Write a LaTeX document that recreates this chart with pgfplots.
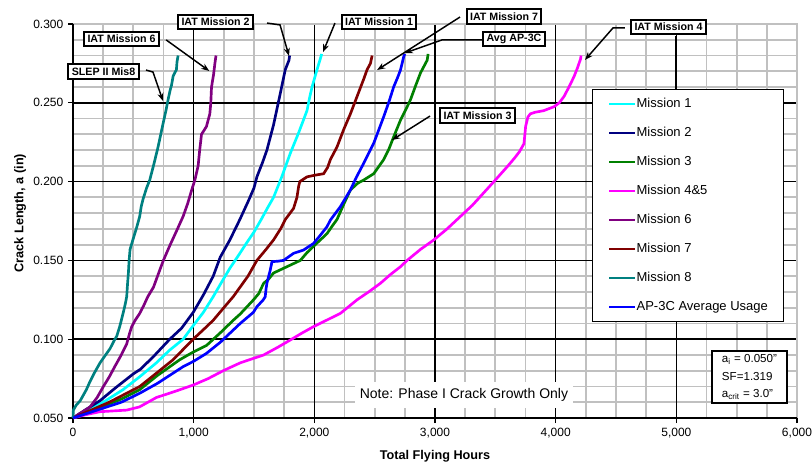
\documentclass[border=0pt]{standalone}
\usepackage{fontspec}
\setmainfont{Liberation Sans}
\usepackage{pgfplots}
\pgfplotsset{compat=1.18}
\usetikzlibrary{arrows.meta}
\definecolor{mcyan}{RGB}{0,255,255}
\definecolor{mnavy}{RGB}{0,0,128}
\definecolor{mgreen}{RGB}{0,128,0}
\definecolor{mmag}{RGB}{255,0,255}
\definecolor{mpurple}{RGB}{128,0,128}
\definecolor{mmaroon}{RGB}{128,0,0}
\definecolor{mteal}{RGB}{0,128,128}
\definecolor{mblue}{RGB}{0,0,255}
\definecolor{gridgray}{RGB}{192,192,192}
\begin{document}
\begin{tikzpicture}[x=1pt,y=1pt,
  lab/.style={draw=black, line width=1.5pt, fill=white, font=\bfseries\fontsize{8}{9}\selectfont, inner xsep=2.5pt, inner ysep=1.5pt, minimum height=11pt},
  arr/.style={black, line width=1.1pt, -{Stealth[length=6pt,width=4.5pt]}}]
\begin{axis}[
  at={(0,0)}, anchor=south west,
  width=543pt, height=295.5pt, scale only axis,
  xmin=0, xmax=6000, ymin=0.05, ymax=0.3,
  xtick={0,1000,2000,3000,4000,5000,6000},
  ytick={0.05,0.10,0.15,0.20,0.25,0.30},
  minor x tick num=3, minor y tick num=4,
  grid=minor,
  minor grid style={gridgray, line width=1.4pt},
  axis line style={draw=none},
  tick align=outside, major tick length=3.75pt, minor tick length=0pt,
  tick style={black, line width=1pt},
  tick pos=left,
  /pgf/number format/assume math mode=true,
  x tick label style={font=\fontsize{9}{10}\selectfont, /pgf/number format/1000 sep={,}},
  y tick label style={font=\fontsize{9}{10}\selectfont, /pgf/number format/.cd, fixed, fixed zerofill, precision=3},
  xlabel={\bfseries Total Flying Hours},
  ylabel={\bfseries Crack Length, a (in)},
  xlabel style={font=\fontsize{9.5}{11}\selectfont, at={(axis description cs:0.5,-0.096)}, anchor=center},
  ylabel style={font=\fontsize{9.5}{11}\selectfont, at={(axis description cs:-0.073,0.52)}, anchor=center},
  clip=false,
  legend style={at={(0.717,0.835)}, anchor=north west, draw=black, line width=0.8pt, fill=white,
    font=\fontsize{9.75}{11}\selectfont, inner xsep=11.5pt, inner ysep=0pt, row sep=0pt,
    nodes={minimum height=21.75pt, inner xsep=0.5pt, inner ysep=0pt}},
  legend cell align=left,
  legend image code/.code={\draw[#1, line width=2pt] (0pt,0pt) -- (19pt,0pt);},
  every axis plot/.append style={line width=2pt, mark=none},
]
% major grid lines (drawn over the minor grid, under the curves)
\pgfplotsinvokeforeach{1000,2000,3000,4000,5000}{\draw[black, line width=1.2pt] (axis cs:#1,0.05) -- (axis cs:#1,0.3);}
\pgfplotsinvokeforeach{0.10,0.15,0.20,0.25}{\draw[black, line width=1.2pt] (axis cs:0,#1) -- (axis cs:6000,#1);}
\draw[gridgray, line width=1.4pt] (rel axis cs:0,1) -- (rel axis cs:1,1) -- (rel axis cs:1,0);
\draw[black, line width=1.2pt] (rel axis cs:0,1) -- (rel axis cs:0,0) -- (rel axis cs:1,0);
% Mission 1
\addplot[mcyan] coordinates {(0,0.050) (100,0.054) (250,0.060) (415,0.068) (550,0.076) (691,0.085) (800,0.093) (913,0.100) (1000,0.109) (1080,0.117) (1162,0.127) (1230,0.136) (1300,0.145) (1370,0.153) (1438,0.161) (1500,0.168) (1560,0.176) (1610,0.183) (1662,0.190) (1730,0.203) (1801,0.218) (1870,0.231) (1939,0.245) (1960,0.253) (1981,0.260) (2022,0.271) (2050,0.278) (2061,0.281)};
\addlegendentry{Mission 1}
% Mission 2
\addplot[mnavy] coordinates {(0,0.050) (100,0.055) (224,0.061) (350,0.069) (500,0.078) (560,0.081) (667,0.089) (802,0.100) (900,0.107) (996,0.117) (1080,0.128) (1162,0.140) (1220,0.152) (1300,0.163) (1383,0.176) (1455,0.188) (1500,0.196) (1524,0.203) (1570,0.212) (1607,0.220) (1662,0.236) (1690,0.246) (1718,0.256) (1759,0.271) (1790,0.277) (1795,0.280)};
\addlegendentry{Mission 2}
% Mission 3
\addplot[mgreen] coordinates {(0,0.050) (200,0.056) (400,0.062) (553,0.068) (700,0.077) (885,0.087) (1000,0.092) (1106,0.096) (1220,0.104) (1328,0.112) (1386,0.116) (1496,0.125) (1540,0.129) (1552,0.131) (1580,0.1355) (1620,0.138) (1662,0.142) (1773,0.146) (1884,0.150) (1940,0.155) (1994,0.159) (2050,0.163) (2105,0.167) (2150,0.172) (2188,0.176) (2240,0.185) (2299,0.1947) (2360,0.199) (2409,0.201) (2492,0.205) (2575,0.214) (2620,0.221) (2658,0.2285) (2714,0.239) (2760,0.246) (2797,0.252) (2840,0.261) (2880,0.269) (2935,0.277) (2943,0.281)};
\addlegendentry{Mission 3}
% Mission 4&5
\addplot[mmag] coordinates {(0,0.050) (100,0.052) (224,0.054) (445,0.055) (550,0.057) (691,0.063) (850,0.067) (999,0.071) (1120,0.075) (1245,0.080) (1386,0.085) (1580,0.090) (1700,0.095) (1801,0.0995) (1900,0.104) (1994,0.108) (2100,0.112) (2216,0.1164) (2290,0.121) (2354,0.125) (2450,0.130) (2548,0.1355) (2630,0.141) (2714,0.146) (2769,0.150) (2880,0.157) (2990,0.163) (3100,0.170) (3212,0.178) (3310,0.185) (3405,0.193) (3500,0.201) (3599,0.2095) (3660,0.215) (3700,0.219) (3737,0.224) (3745,0.230) (3751,0.235) (3770,0.241) (3790,0.243) (3830,0.244) (3900,0.245) (3986,0.2475) (4030,0.250) (4069,0.254) (4110,0.260) (4152,0.2666) (4180,0.272) (4207,0.278) (4210,0.280)};
\addlegendentry{Mission 4\&5}
% Mission 6
\addplot[mpurple] coordinates {(0,0.050) (60,0.053) (141,0.057) (200,0.063) (252,0.070) (300,0.076) (349,0.083) (400,0.090) (445,0.097) (470,0.104) (487,0.108) (515,0.112) (550,0.116) (584,0.121) (620,0.127) (667,0.133) (710,0.142) (749,0.150) (800,0.159) (860,0.169) (913,0.178) (950,0.186) (985,0.195) (1010,0.201) (1037,0.210) (1050,0.220) (1065,0.230) (1090,0.233) (1106,0.235) (1134,0.243) (1142,0.250) (1148,0.260) (1165,0.268) (1176,0.275) (1185,0.280)};
\addlegendentry{Mission 6}
% Mission 7
\addplot[mmaroon] coordinates {(0,0.050) (150,0.055) (300,0.060) (553,0.070) (700,0.079) (830,0.087) (996,0.100) (1080,0.106) (1162,0.112) (1250,0.120) (1328,0.127) (1450,0.140) (1524,0.150) (1600,0.157) (1662,0.163) (1720,0.170) (1760,0.176) (1828,0.183) (1856,0.190) (1870,0.197) (1880,0.200) (1939,0.203) (2000,0.204) (2077,0.205) (2110,0.209) (2133,0.214) (2188,0.222) (2243,0.233) (2299,0.243) (2354,0.254) (2409,0.265) (2437,0.271) (2465,0.275) (2479,0.280)};
\addlegendentry{Mission 7}
% Mission 8
\addplot[mteal] coordinates {(0,0.050) (3,0.055) (25,0.058) (60,0.061) (111,0.068) (140,0.073) (180,0.079) (224,0.085) (270,0.090) (307,0.094) (340,0.099) (363,0.102) (387,0.108) (404,0.113) (420,0.118) (435,0.123) (445,0.127) (452,0.135) (459,0.142) (465,0.150) (473,0.157) (500,0.164) (528,0.171) (553,0.178) (565,0.184) (581,0.189) (610,0.196) (636,0.201) (670,0.211) (705,0.222) (747,0.237) (770,0.245) (788,0.252) (805,0.258) (816,0.261) (830,0.267) (857,0.271) (862,0.276) (871,0.280)};
\addlegendentry{Mission 8}
% AP-3C Average Usage
\addplot[mblue] coordinates {(0,0.050) (200,0.055) (400,0.060) (553,0.0657) (700,0.072) (913,0.0826) (1000,0.086) (1106,0.091) (1220,0.098) (1328,0.1058) (1386,0.110) (1494,0.117) (1524,0.1206) (1577,0.125) (1593,0.127) (1600,0.132) (1607,0.1355) (1635,0.144) (1649,0.1492) (1700,0.1495) (1745,0.150) (1828,0.1545) (1911,0.1566) (1994,0.1608) (2050,0.166) (2105,0.1714) (2133,0.1756) (2216,0.1841) (2299,0.1947) (2350,0.203) (2409,0.2116) (2450,0.218) (2492,0.2243) (2530,0.232) (2575,0.2412) (2620,0.251) (2658,0.2602) (2690,0.266) (2714,0.2708) (2741,0.2793) (2750,0.281)};
\addlegendentry{AP-3C Average Usage}

% annotations
\draw[arr] (axis cs:772,0.2899) -- (axis cs:1129,0.2702);
\draw[arr] (axis cs:1608,0.3006) -- (axis cs:1716,0.2994) -- (axis cs:1790,0.2797);
\draw[arr] (axis cs:605,0.2708) -- (axis cs:663,0.2695) -- (axis cs:746,0.2511);
\draw[arr] (axis cs:2171,0.3006) -- (axis cs:2072,0.2822);
\draw[arr] (axis cs:3207,0.3044) -- (axis cs:2520,0.2708);
\draw[arr] (axis cs:3390,0.2899) -- (axis cs:3058,0.2899) -- (axis cs:2751,0.2816);
\draw[arr] (axis cs:2959,0.2416) -- (axis cs:2644,0.2264);
\draw[arr] (axis cs:4574,0.2975) -- (axis cs:4475,0.2975) -- (axis cs:4243,0.2772);
\draw[black, line width=1.5pt] (axis cs:4997,0.2924) -- (axis cs:4997,0.2588);

\node[lab] at (axis cs:402,0.2905) {IAT Mission 6};
\node[lab] at (axis cs:1181,0.3013) {IAT Mission 2};
\node[lab] at (axis cs:253,0.2699) {SLEP II Mis8};
\node[lab] at (axis cs:2536,0.3013) {IAT Mission 1};
\node[lab] at (axis cs:3572,0.3048) {IAT Mission 7};
\node[lab] at (axis cs:3655,0.2905) {Avg AP-3C};
\node[lab] at (axis cs:3352,0.2419) {IAT Mission 3};
\node[lab] at (axis cs:4935,0.2981) {IAT Mission 4};

\node[fill=white, inner xsep=4pt, inner ysep=5pt, font=\fontsize{10.5}{12}\selectfont] at (axis cs:3240,0.0646) {Note: Phase I Crack Growth Only};
\node[draw=black, line width=1.5pt, fill=white, align=left, inner xsep=3pt, inner ysep=2.5pt, minimum width=56pt,
  font=\fontsize{8.7}{13}\selectfont] at (axis cs:5606,0.0760) {a\textsubscript{i} = 0.050"\\SF=1.319\\a\textsubscript{crit} = 3.0"};
\end{axis}
\pgfresetboundingbox
\useasboundingbox (-54.75pt,-36pt) rectangle (554.25pt,313.5pt);
\end{tikzpicture}
\end{document}
